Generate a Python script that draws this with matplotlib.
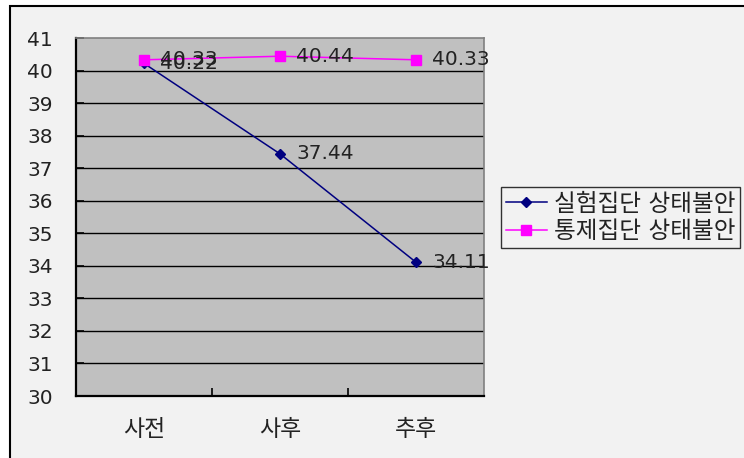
import matplotlib
matplotlib.use("Agg")
import matplotlib.pyplot as plt
from matplotlib.patches import Rectangle

plt.rcParams['font.family'] = ['DejaVu Sans', 'Noto Sans CJK KR']

categories = ['사전', '사후', '추후']
series_names = ['실험집단 상태불안', '통제집단 상태불안']
experimental = [40.22, 37.44, 34.11]
control = [40.33, 40.44, 40.33]
y_ticks = list(range(30, 42))

W, H = 744, 458
fig = plt.figure(figsize=(W / 100, H / 100), dpi=100)
fig.patch.set_facecolor('white')

# chart frame (extends past right and bottom edges)
fig.patches.append(Rectangle((10 / W, -0.05), 1.1, 1 - 6 / H + 0.05,
                             transform=fig.transFigure, facecolor='#f2f2f2',
                             edgecolor='black', linewidth=1.5, zorder=-5))

ax = fig.add_axes([76 / W, 1 - 396 / H, 408 / W, 358 / H])
ax.set_zorder(1)
ax.set_facecolor('#c0c0c0')

x = list(range(len(categories)))
ax.plot(x, experimental, color='#000080', marker='D', markersize=5.5,
        linewidth=1.1, zorder=3, label=series_names[0])
ax.plot(x, control, color='#ff00ff', marker='s', markersize=7.5,
        linewidth=1.1, zorder=3, label=series_names[1])

for series in (experimental, control):
    for xi, v in zip(x, series):
        ax.annotate(f'{v:.2f}', (xi, v), xytext=(11.5, 0), textcoords='offset points',
                    va='center', ha='left', fontsize=14.5, color='#222222', zorder=4)

ax.set_xlim(-0.5, 2.5)
ax.set_ylim(30, 41)
ax.set_yticks(y_ticks)
ax.set_yticklabels([str(t) for t in y_ticks], fontsize=14.5, color='#222222')
for t in y_ticks[1:-1]:
    ax.axhline(t, color='black', linewidth=1.0, zorder=1)

ax.set_xticks(x)
ax.set_xticklabels(categories, fontsize=16.5, color='#222222')
ax.tick_params(axis='x', length=0, pad=16)
ax.set_xticks([0.5, 1.5], minor=True)
ax.tick_params(axis='x', which='minor', direction='in', length=6, width=1.2, color='black')
ax.tick_params(axis='y', direction='in', length=6, width=1.2, pad=16.5, color='black')

for side in ['left', 'bottom']:
    ax.spines[side].set_color('black')
    ax.spines[side].set_linewidth(1.6)
for side in ['top', 'right']:
    ax.spines[side].set_color('#808080')
    ax.spines[side].set_linewidth(1.2)

leg = fig.legend(loc='upper left', bbox_to_anchor=(501 / W, 1 - 187 / H),
                 fontsize=17, frameon=True, fancybox=False, handlelength=1.75,
                 handletextpad=0.3, borderpad=0.2, labelspacing=0.15,
                 borderaxespad=0)
for txt in leg.get_texts():
    txt.set_color('#222222')
leg.get_frame().set_edgecolor('black')
leg.get_frame().set_facecolor('#f2f2f2')
leg.get_frame().set_linewidth(1.0)

fig.savefig('out.png', dpi=100, facecolor=fig.get_facecolor())
